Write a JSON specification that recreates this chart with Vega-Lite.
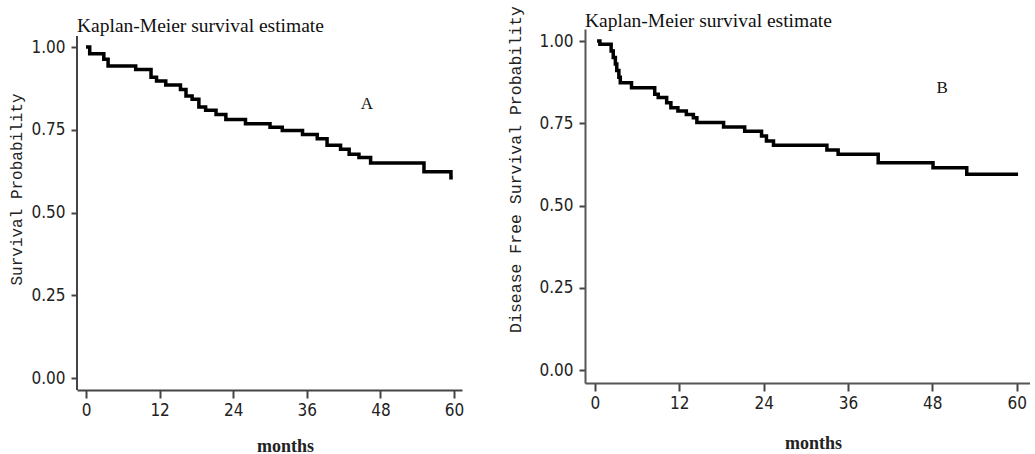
{
  "$schema": "https://vega.github.io/schema/vega-lite/v6.json",
  "padding": {"left": 8, "top": 5, "right": 0, "bottom": 0},
  "background": "white",
  "config": {
    "view": {"stroke": null},
    "axis": {
      "grid": false,
      "domainColor": "#444",
      "domainWidth": 2,
      "tickColor": "#444",
      "tickWidth": 2,
      "labelFont": "Liberation Sans Narrow, DejaVu Sans Condensed, sans-serif",
      "labelFontSize": 17,
      "labelColor": "#222"
    },
    "title": {
      "font": "Liberation Serif",
      "fontSize": 19.5,
      "fontWeight": "normal",
      "color": "#111",
      "anchor": "start",
      "frame": "group"
    }
  },
  "datasets": {
    "A": [
      {"month": 0, "surv": 1.0},
      {"month": 0.6, "surv": 0.98},
      {"month": 2.9, "surv": 0.963},
      {"month": 3.6, "surv": 0.943},
      {"month": 8.1, "surv": 0.932},
      {"month": 10.6, "surv": 0.909},
      {"month": 11.5, "surv": 0.897},
      {"month": 13.0, "surv": 0.885},
      {"month": 15.4, "surv": 0.872},
      {"month": 16.3, "surv": 0.852},
      {"month": 17.3, "surv": 0.842},
      {"month": 18.4, "surv": 0.819},
      {"month": 19.5, "surv": 0.809},
      {"month": 21.2, "surv": 0.796},
      {"month": 22.8, "surv": 0.781},
      {"month": 26.0, "surv": 0.768},
      {"month": 30.0, "surv": 0.758},
      {"month": 32.0, "surv": 0.748},
      {"month": 35.3, "surv": 0.736},
      {"month": 37.7, "surv": 0.723},
      {"month": 39.3, "surv": 0.703},
      {"month": 41.5, "surv": 0.691},
      {"month": 42.9, "surv": 0.676},
      {"month": 44.5, "surv": 0.666},
      {"month": 46.4, "surv": 0.65},
      {"month": 55.1, "surv": 0.623},
      {"month": 59.5, "surv": 0.605},
      {"month": 59.8, "surv": 0.605}
    ],
    "B": [
      {"month": 0.3, "surv": 1.0},
      {"month": 0.7, "surv": 0.99},
      {"month": 2.3, "surv": 0.97},
      {"month": 2.6, "surv": 0.95},
      {"month": 2.9, "surv": 0.93},
      {"month": 3.1, "surv": 0.91},
      {"month": 3.4, "surv": 0.89},
      {"month": 3.6, "surv": 0.873},
      {"month": 5.2, "surv": 0.858},
      {"month": 8.5, "surv": 0.838},
      {"month": 9.0, "surv": 0.828},
      {"month": 10.2, "surv": 0.812},
      {"month": 10.8, "surv": 0.797},
      {"month": 11.8, "surv": 0.787},
      {"month": 13.0, "surv": 0.777},
      {"month": 14.0, "surv": 0.767},
      {"month": 14.5, "surv": 0.752},
      {"month": 18.3, "surv": 0.739},
      {"month": 21.3, "surv": 0.726},
      {"month": 23.7, "surv": 0.711},
      {"month": 24.4, "surv": 0.696},
      {"month": 25.4, "surv": 0.683},
      {"month": 33.0, "surv": 0.669},
      {"month": 34.6, "surv": 0.656},
      {"month": 40.3, "surv": 0.63},
      {"month": 48.1, "surv": 0.615},
      {"month": 52.9, "surv": 0.595},
      {"month": 60.2, "surv": 0.595}
    ]
  },
  "spacing": 123,
  "bounds": "flush",
  "hconcat": [
    {
      "width": 385,
      "height": 361,
      "title": {"text": "Kaplan-Meier survival estimate", "offset": -7.5},
      "layer": [
        {
          "data": {"name": "A"},
          "mark": {"type": "line", "interpolate": "step-after", "color": "#000", "strokeWidth": 3.5},
          "encoding": {
            "x": {
              "field": "month", "type": "quantitative",
              "scale": {"domain": [-1.47, 61.3], "nice": false, "zero": false},
              "axis": {
                "values": [0, 12, 24, 36, 48, 60],
                "title": "months",
                "titleFont": "Liberation Serif", "titleFontWeight": "bold", "titleFontSize": 18, "titleColor": "#222",
                "titleX": 208, "titleY": 61, "titleBaseline": "alphabetic", "titleAlign": "center",
                "tickSize": 8, "labelPadding": 4
              }
            },
            "y": {
              "field": "surv", "type": "quantitative",
              "scale": {"domain": [-0.036, 1.0544], "nice": false, "zero": false},
              "axis": {
                "values": [0, 0.25, 0.5, 0.75, 1],
                "format": ".2f",
                "domain": false,
                "title": "Survival Probability",
                "titleFont": "Liberation Mono", "titleFontWeight": "normal", "titleFontSize": 16, "titleColor": "#222",
                "titleX": -61, "titleY": 160, "titleAngle": -90, "titleBaseline": "middle", "titleAlign": "center",
                "tickSize": 6, "labelPadding": 6
              }
            }
          }
        },
        {
          "data": {"values": [{}]},
          "mark": {"type": "rule", "color": "#444", "strokeWidth": 2},
          "encoding": {"x": {"datum": -1.47}, "y": {"datum": -0.036}, "y2": {"datum": 1.033}}
        },
        {
          "data": {"values": [{}]},
          "mark": {"type": "text", "font": "Liberation Serif", "fontSize": 17, "color": "#111", "align": "center", "baseline": "middle"},
          "encoding": {"x": {"datum": 45.8}, "y": {"datum": 0.828}, "text": {"value": "A"}}
        }
      ]
    },
    {
      "width": 445,
      "height": 354,
      "title": {"text": "Kaplan-Meier survival estimate", "offset": -26},
      "layer": [
        {
          "data": {"name": "B"},
          "mark": {"type": "line", "interpolate": "step-after", "color": "#000", "strokeWidth": 3.5},
          "encoding": {
            "x": {
              "field": "month", "type": "quantitative",
              "scale": {"domain": [-1.42, 61.9], "nice": false, "zero": false},
              "axis": {
                "values": [0, 12, 24, 36, 48, 60],
                "title": "months",
                "titleFont": "Liberation Serif", "titleFontWeight": "bold", "titleFontSize": 18, "titleColor": "#222",
                "titleX": 228, "titleY": 65, "titleBaseline": "alphabetic", "titleAlign": "center",
                "tickSize": 8, "labelPadding": 4, "domainColor": "#555"
              }
            },
            "y": {
              "field": "surv", "type": "quantitative",
              "scale": {"domain": [-0.0395, 1.0365], "nice": false, "zero": false},
              "axis": {
                "values": [0, 0.25, 0.5, 0.75, 1],
                "format": ".2f",
                "domainColor": "#555",
                "title": "Disease Free Survival Probability",
                "titleFont": "Liberation Mono", "titleFontWeight": "normal", "titleFontSize": 16.5, "titleColor": "#222",
                "titleX": -70, "titleY": 140, "titleAngle": -90, "titleBaseline": "middle", "titleAlign": "center",
                "tickSize": 6, "labelPadding": 6
              }
            }
          }
        },
        {
          "data": {"values": [{}]},
          "mark": {"type": "text", "font": "Liberation Serif", "fontSize": 17, "color": "#111", "align": "center", "baseline": "middle"},
          "encoding": {"x": {"datum": 49.4}, "y": {"datum": 0.857}, "text": {"value": "B"}}
        }
      ]
    }
  ]
}
